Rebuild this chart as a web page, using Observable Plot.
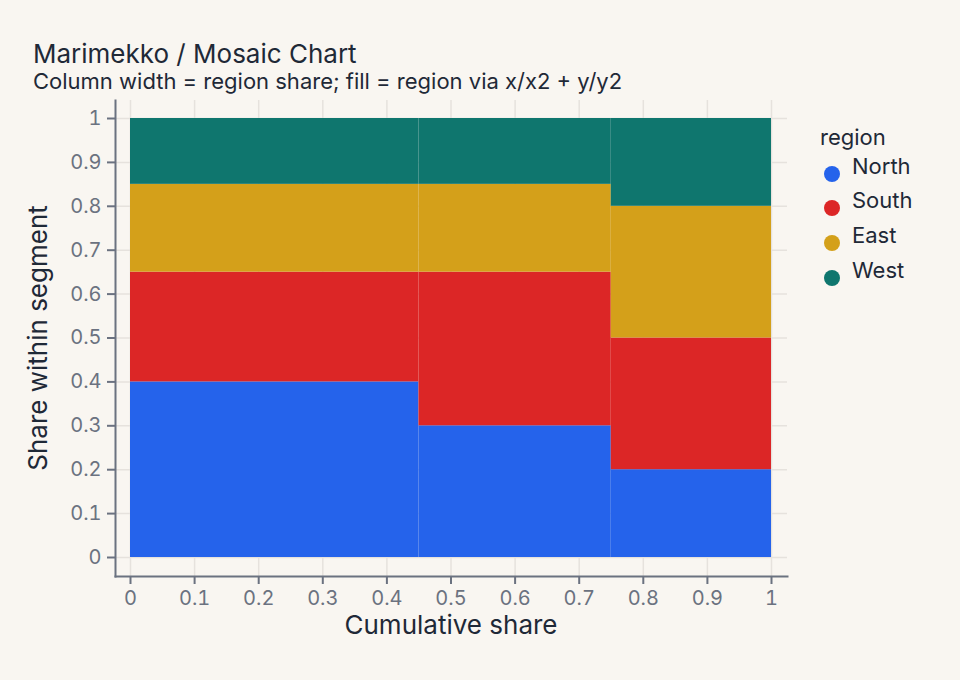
<!DOCTYPE html>
<html>
<head>
<meta charset="utf-8">
<script src="https://cdn.jsdelivr.net/npm/d3@7"></script>
<script src="https://cdn.jsdelivr.net/npm/@observablehq/plot@0.6"></script>
<style>
  html, body { margin: 0; padding: 0; background: #f9f6f1; }
  #chart { position: relative; width: 960px; height: 680px; font-family: Inter, "Noto Sans", sans-serif; color: #1f2937; }
  .title { position: absolute; left: 33px; top: 41px; font-size: 26px; line-height: 26px; white-space: nowrap; }
  .subtitle { position: absolute; left: 33px; top: 70px; font-size: 22px; line-height: 22px; white-space: nowrap; }
  .plot { position: absolute; left: 0; top: 96px; }
  #plot svg text { font-size: 20px; font-family: Inter, "Noto Sans", sans-serif; }
  .xlabel { position: absolute; left: 451px; top: 615.2px; transform: translateX(-50%); font-size: 26px; line-height: 20px; white-space: nowrap; }
  .ylabel { position: absolute; left: 38px; top: 338px; transform: translate(-50%, -50%) rotate(-90deg); font-size: 26px; line-height: 26px; white-space: nowrap; }
  .legend { position: absolute; left: 820px; top: 0; }
  .legend .ltitle { position: absolute; left: 0; top: 126px; font-size: 22px; line-height: 22px; white-space: nowrap; }
  .legend .dot { position: absolute; left: 4px; width: 16px; height: 16px; border-radius: 50%; }
  .legend .name { position: absolute; left: 32px; font-size: 22px; line-height: 22px; white-space: nowrap; }
</style>
</head>
<body>
<div id="chart">
  <div class="title">Marimekko / Mosaic Chart</div>
  <div class="subtitle">Column width = region share; fill = region via x/x2 + y/y2</div>
  <div class="plot" id="plot"></div>
  <div class="xlabel">Cumulative share</div>
  <div class="ylabel">Share within segment</div>
  <div class="legend" id="legend"></div>
</div>
<script>
// Segments (columns) and their share of the total width
const segments = ["Segment A", "Segment B", "Segment C"];
const segmentShare = [0.45, 0.30, 0.25];

// Regions stacked inside each column, bottom to top
const regions = ["North", "South", "East", "West"];
const regionColors = ["#2563eb", "#dc2626", "#d4a01a", "#0f766e"];

// Share of each region within each segment
const north = [0.40, 0.30, 0.20];
const south = [0.25, 0.35, 0.30];
const east  = [0.20, 0.20, 0.30];
const west  = [0.15, 0.15, 0.20];

const xTicks = [0, 0.1, 0.2, 0.3, 0.4, 0.5, 0.6, 0.7, 0.8, 0.9, 1];
const yTicks = [0, 0.1, 0.2, 0.3, 0.4, 0.5, 0.6, 0.7, 0.8, 0.9, 1];

// Build mosaic cells: x1/x2 from cumulative segment share, y1/y2 from stacked region share
const shares = [north, south, east, west];
const cells = [];
let xStart = 0;
segments.forEach((seg, i) => {
  const xEnd = xStart + segmentShare[i];
  let yStart = 0;
  regions.forEach((region, r) => {
    const yEnd = yStart + shares[r][i];
    cells.push({segment: seg, region, x1: xStart, x2: xEnd, y1: yStart, y2: yEnd});
    yStart = yEnd;
  });
  xStart = xEnd;
});

const axisColor = "#6b7280";
const gridColor = "#e6e2dd";
const tickFont = 20;

const chart = Plot.plot({
  width: 960,
  height: 584,
  marginTop: 4,
  marginLeft: 115,
  marginRight: 173,
  marginBottom: 104,
  style: {background: "transparent", fontFamily: "Inter, 'Noto Sans', sans-serif", fontSize: tickFont + "px", color: axisColor},
  x: {domain: [0, 1], insetLeft: 15, insetRight: 16, label: null},
  y: {domain: [0, 1], insetTop: 18, insetBottom: 19, label: null},
  color: {domain: regions, range: regionColors},
  marks: [
    Plot.gridX(xTicks, {stroke: gridColor, strokeOpacity: 1, strokeWidth: 1.5}),
    Plot.gridY(yTicks, {stroke: gridColor, strokeOpacity: 1, strokeWidth: 1.5}),
    Plot.rect(cells, {x1: "x1", x2: "x2", y1: "y1", y2: "y2", fill: "region"}),
    Plot.frame({anchor: "left", stroke: axisColor, strokeWidth: 2}),
    Plot.frame({anchor: "bottom", stroke: axisColor, strokeWidth: 2}),
    Plot.axisX(xTicks, {tickSize: 8, tickPadding: 6, fontSize: tickFont, tickFormat: d3.format("~g"), stroke: axisColor, strokeWidth: 2, fill: axisColor, label: null}),
    Plot.axisY(yTicks, {tickSize: 8, tickPadding: 6, fontSize: tickFont, tickFormat: d3.format("~g"), stroke: axisColor, strokeWidth: 2, fill: axisColor, label: null})
  ]
});
document.getElementById("plot").appendChild(chart);

// Legend built from the same region list and colours
const legend = d3.select("#legend");
legend.append("div").attr("class", "ltitle").text("region");
regions.forEach((region, i) => {
  const baseline = 173.5 + i * 34.8;
  legend.append("div").attr("class", "dot").style("top", (baseline - 8) + "px").style("background", regionColors[i]);
  legend.append("div").attr("class", "name").style("top", (baseline - 19) + "px").text(region);
});
</script>
</body>
</html>
